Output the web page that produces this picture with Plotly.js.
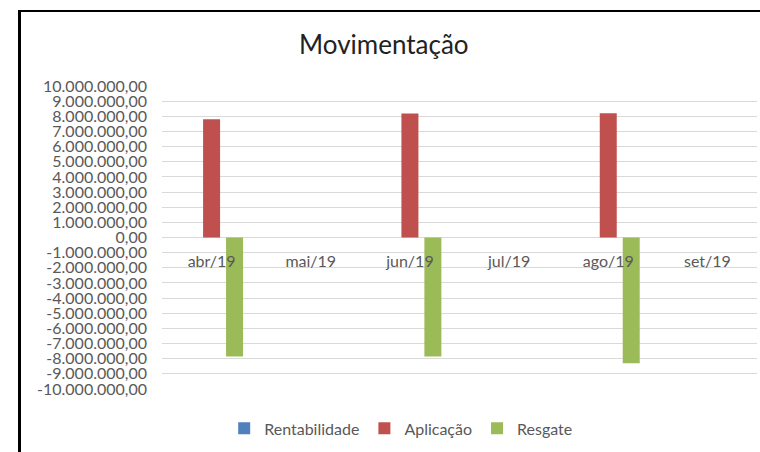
<!DOCTYPE html>
<html>
<head>
<meta charset="utf-8">
<script src="https://cdn.plot.ly/plotly-3.0.1.min.js"></script>
<style>
html,body{margin:0;padding:0;background:#fff;width:760px;height:452px;overflow:hidden;}
#chart{position:absolute;left:18px;top:10px;width:739px;height:440px;border-left:3px solid #000;border-top:2px solid #000;}
</style>
</head>
<body>
<div id="chart"></div>
<script>
const months = ['abr/19','mai/19','jun/19','jul/19','ago/19','set/19'];
const rentabilidade = [0, 0, 0, 0, 0, 0];
const aplicacao = [7800000, 0, 8190000, 0, 8200000, 0];
const resgate = [-7860000, 0, -7860000, 0, -8300000, 0];
const yTickVals = [10000000,9000000,8000000,7000000,6000000,5000000,4000000,3000000,2000000,1000000,0,
  -1000000,-2000000,-3000000,-4000000,-5000000,-6000000,-7000000,-8000000,-9000000,-10000000];
const yTickText = ['10.000.000,00','9.000.000,00','8.000.000,00','7.000.000,00','6.000.000,00','5.000.000,00',
  '4.000.000,00','3.000.000,00','2.000.000,00','1.000.000,00','0,00','-1.000.000,00','-2.000.000,00',
  '-3.000.000,00','-4.000.000,00','-5.000.000,00','-6.000.000,00','-7.000.000,00','-8.000.000,00',
  '-9.000.000,00','-10.000.000,00'];

const FONT = 'Lato, "Open Sans", sans-serif';
const traces = [
  {type:'bar', name:'Rentabilidade', x:months, y:rentabilidade, marker:{color:'#4F81BD'}},
  {type:'bar', name:'Aplicação', x:months, y:aplicacao, marker:{color:'#C0504D'}},
  {type:'bar', name:'Resgate', x:months, y:resgate, marker:{color:'#9BBB59'}}
];
const layout = {
  width:739, height:440,
  margin:{l:141, r:3, t:74, b:63},
  paper_bgcolor:'#fff', plot_bgcolor:'#fff',
  barmode:'group', bargap:0.305, bargroupgap:0.26,
  font:{family:FONT, size:16, color:'#595959'},
  title:{text:'Movimentação', font:{family:FONT, size:26, color:'#222'},
    x:0.491, xref:'container', xanchor:'center', y:0.925, yref:'container', yanchor:'middle'},
  xaxis:{type:'category', anchor:'free', position:0.5, showgrid:false, showline:false, zeroline:false,
    ticks:'', ticklabelstandoff:12, tickfont:{family:FONT, size:16, color:'#595959'}},
  yaxis:{range:[-10000000,10000000], tickvals:yTickVals, ticktext:yTickText, showgrid:true,
    gridcolor:'#d9d9d9', gridwidth:1, zeroline:true, zerolinecolor:'#d9d9d9', zerolinewidth:1,
    showline:false, ticks:'', ticklabelstandoff:14, tickfont:{family:FONT, size:16, color:'#595959'}},
  showlegend:true,
  legend:{orientation:'h', x:0.402, xanchor:'center', y:-0.13, yanchor:'middle',
    font:{family:FONT, size:16, color:'#595959'}, itemwidth:30, traceorder:'normal'}
};
Plotly.newPlot('chart', traces, layout, {displayModeBar:false, staticPlot:true});
</script>
</body>
</html>
